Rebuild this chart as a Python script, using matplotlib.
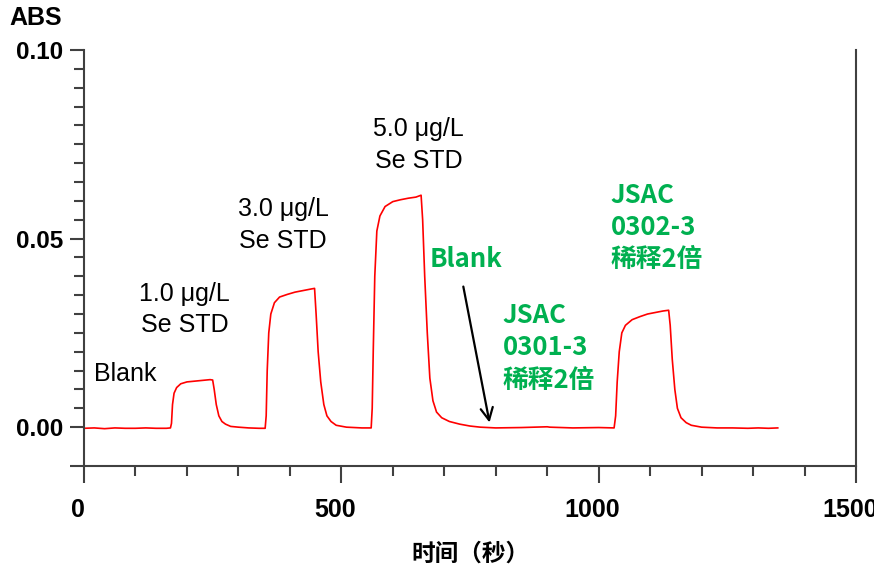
import matplotlib.pyplot as plt
import matplotlib.transforms as mtransforms
from matplotlib.ticker import MultipleLocator

plt.rcParams['font.family'] = ['Liberation Sans', 'Noto Sans CJK SC', 'DejaVu Sans']

# time (s) and absorbance
time_s = [0, 20, 40, 60, 80, 100, 120, 140, 160, 168,
          170, 172, 175, 180, 188, 200, 215, 230, 245, 250,
          253, 257, 262, 268, 275, 285, 300, 320, 340, 352,
          354, 356, 359, 363, 370, 380, 395, 410, 425, 440, 448,
          451, 455, 460, 466, 472, 480, 490, 510, 540, 558,
          560, 562, 565, 569, 575, 585, 600, 615, 630, 645, 655,
          658, 662, 667, 672, 678, 685, 695, 710, 730, 750, 770,
          800, 850, 900, 905, 950, 1000, 1030,
          1033, 1036, 1040, 1045, 1052, 1065, 1080, 1095, 1110, 1125, 1136,
          1139, 1143, 1148, 1153, 1160, 1170, 1180, 1200, 1230,
          1260, 1290, 1310, 1330, 1348]
absorb = [-0.0003, -0.0002, -0.0004, -0.0002, -0.0003, -0.0003, -0.0002, -0.0003, -0.0003, -0.0002,
          0.001, 0.006, 0.009, 0.0105, 0.0115, 0.012, 0.0122, 0.0124, 0.0126, 0.0125,
          0.010, 0.006, 0.003, 0.0015, 0.0008, 0.0002, 0.0, -0.0002, -0.0003, -0.0003,
          0.003, 0.015, 0.025, 0.030, 0.033, 0.0345, 0.0352, 0.0358, 0.0362, 0.0366, 0.0368,
          0.030, 0.020, 0.012, 0.006, 0.003, 0.0015, 0.0005, 0.0, -0.0002, -0.0002,
          0.005, 0.020, 0.040, 0.052, 0.056, 0.0585, 0.0598, 0.0603, 0.0607, 0.061, 0.0615,
          0.055, 0.040, 0.025, 0.013, 0.007, 0.004, 0.0025, 0.0015, 0.0008, 0.0003, 0.0,
          -0.0002, -0.0001, 0.0001, 0.0, -0.0002, -0.0001, -0.0002,
          0.003, 0.012, 0.020, 0.025, 0.027, 0.0285, 0.0293, 0.030, 0.0304, 0.0308, 0.031,
          0.027, 0.018, 0.010, 0.005, 0.0025, 0.0012, 0.0005, 0.0, -0.0002,
          -0.0002, -0.0003, -0.0002, -0.0003, -0.0002]

y_bottom = -0.0103
ytick_vals = [y_bottom, 0.0, 0.05, 0.10]
ytick_text = ['', '0.00', '0.05', '0.10']
xtick_vals = [0, 500, 1000, 1500]

green = '#00B050'
axis_grey = '#404040'
cjk = ['Noto Sans CJK SC', 'DejaVu Sans']

fig = plt.figure(figsize=(8.74, 5.65), dpi=100)
ax = fig.add_axes([0.0961, 0.1752, 0.8833, 0.7363])
ax.plot(time_s, absorb, color='red', lw=1.2)

ax.set_xlim(0, 1500)
ax.set_ylim(y_bottom, 0.10)
ax.spines['top'].set_visible(False)
for s in ['left', 'right', 'bottom']:
    ax.spines[s].set_color(axis_grey)
    ax.spines[s].set_linewidth(1.5)

ax.set_xticks(xtick_vals)
ax.set_xticklabels([str(v) for v in xtick_vals], fontsize=18, fontweight='bold')
ax.xaxis.set_minor_locator(MultipleLocator(100))
ax.set_yticks(ytick_vals)
ax.set_yticklabels(ytick_text, fontsize=17.5, fontweight='bold')
ax.set_yticks([0.005 * i for i in range(21)], minor=True)
ax.tick_params(axis='x', which='major', direction='out', length=12, width=1.5,
               color=axis_grey, pad=11)
ax.tick_params(axis='x', which='minor', direction='out', length=7, width=1.5, color=axis_grey)
ax.tick_params(axis='y', which='major', direction='out', length=10, width=1.5,
               color=axis_grey, pad=5)
ax.tick_params(axis='y', which='minor', direction='out', length=7, width=1.5, color=axis_grey)

# x tick labels sit a little left of their ticks in the original
shift = mtransforms.ScaledTranslation(-6 / 100, 0, fig.dpi_scale_trans)
for lab in ax.get_xticklabels():
    lab.set_transform(lab.get_transform() + shift)

ax.set_xlabel('时间（秒）', fontsize=17, fontweight='bold', family=cjk, labelpad=14)
fig.text(0.011, 0.968, 'ABS', fontsize=18, fontweight='bold', va='center', ha='left')

# black labels
ax.text(20, 0.0142, 'Blank', fontsize=18, ha='left', va='center')
ax.text(195, 0.0312, '1.0 μg/L\nSe STD', fontsize=18, ha='center', va='center', linespacing=1.38)
ax.text(387, 0.0536, '3.0 μg/L\nSe STD', fontsize=18, ha='center', va='center', linespacing=1.38)
ax.text(650, 0.0748, '5.0 μg/L\nSe STD', fontsize=18, ha='center', va='center', linespacing=1.38)

# green labels
ax.text(672, 0.0445, 'Blank', fontsize=18.5, fontweight='bold', color=green,
        ha='left', va='center', family=cjk)
ax.text(813, 0.0210, 'JSAC\n0301-3\n稀释2倍', fontsize=18.5, fontweight='bold', color=green,
        ha='left', va='center', family=cjk, linespacing=1.25)
ax.text(1023, 0.0530, 'JSAC\n0302-3\n稀释2倍', fontsize=18.5, fontweight='bold', color=green,
        ha='left', va='center', family=cjk, linespacing=1.25)
ax.annotate('', xy=(789, 0.0005), xytext=(736, 0.0380),
            arrowprops=dict(arrowstyle='->', color='black', lw=1.6, mutation_scale=22))

fig.savefig('out.png', dpi=100)
